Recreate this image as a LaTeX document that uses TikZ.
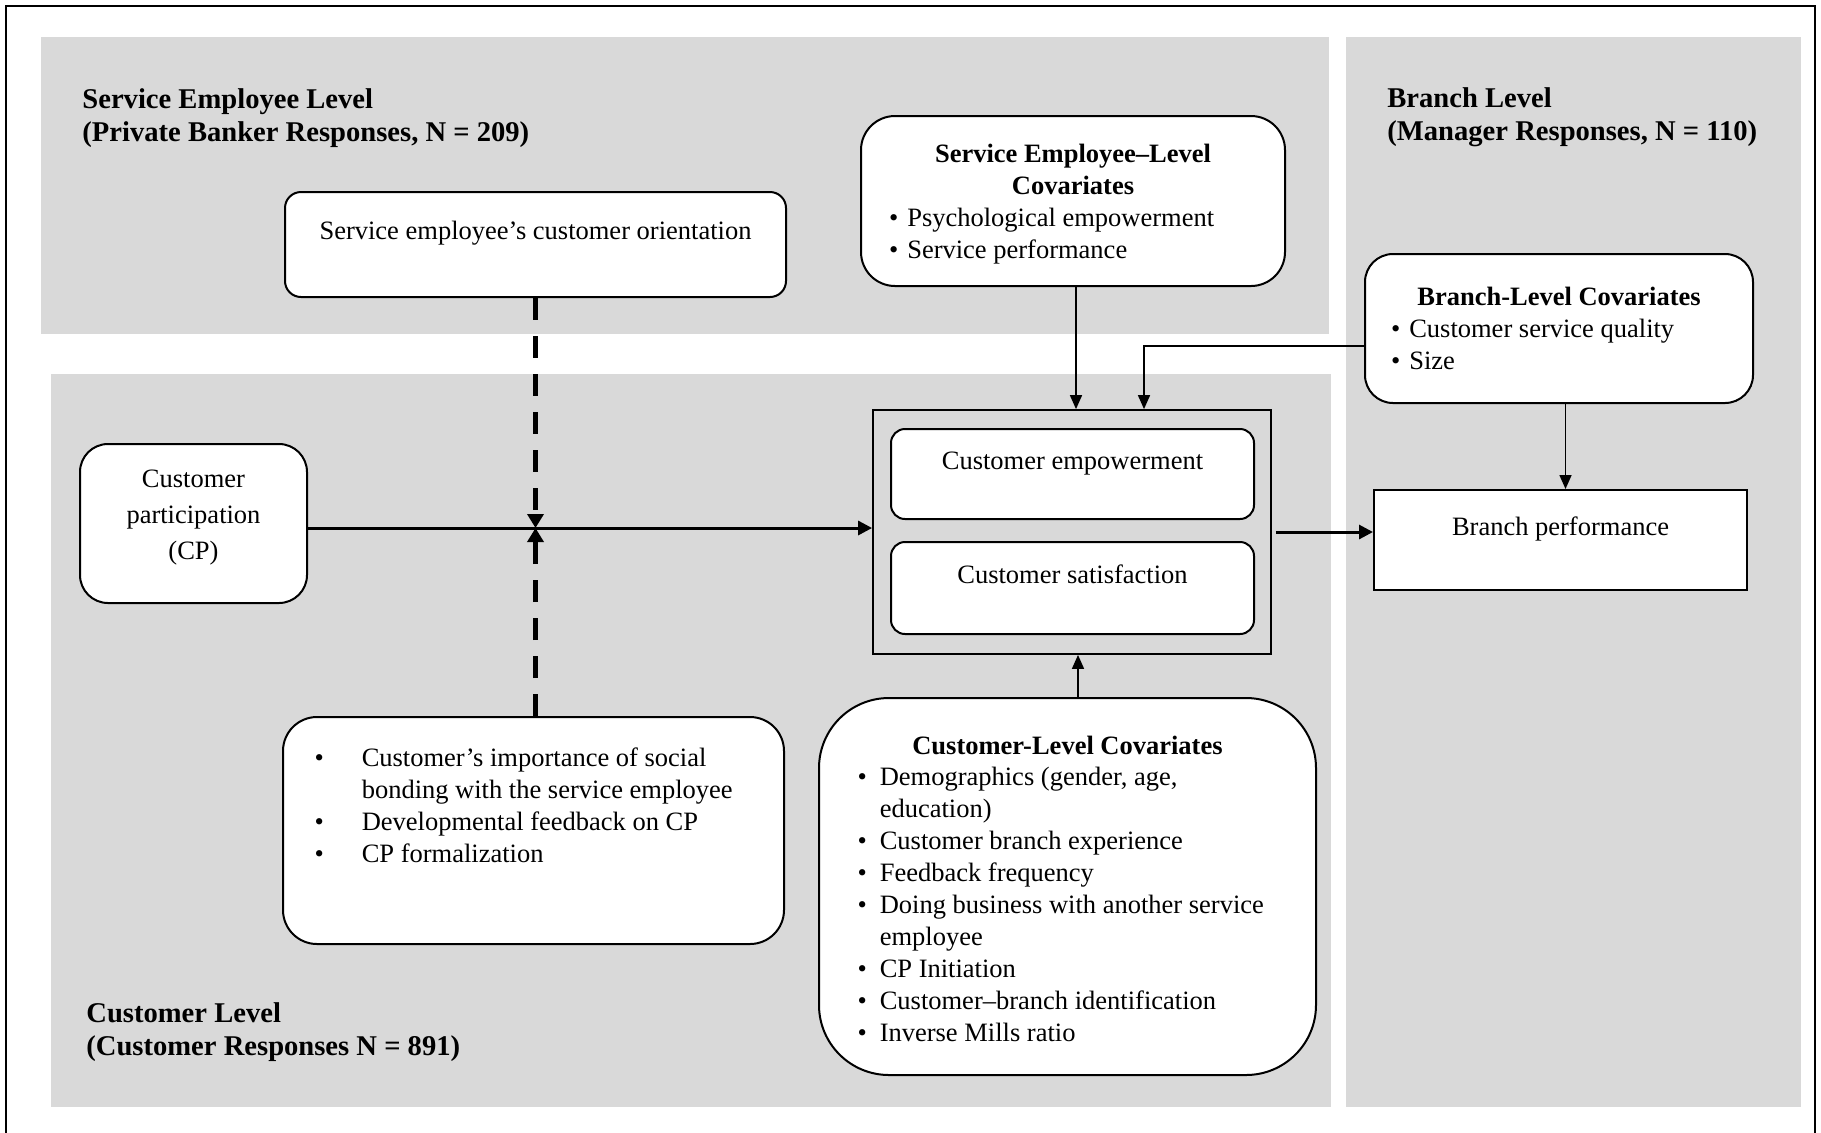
\documentclass[tikz,border=0pt]{standalone}
\usepackage{fontspec}
\setmainfont{Liberation Serif}
\usetikzlibrary{positioning, arrows.meta}
\definecolor{panelgray}{HTML}{D9D9D9}
\newcommand{\pushdown}[1]{\rule[-#1]{0pt}{#1}}

\begin{document}
\begin{tikzpicture}[x=0.5pt, y=-0.5pt, font=\fontsize{13.25}{16}\selectfont]
    % Define styles
    \tikzstyle{panel} = [fill=panelgray, draw=none]
    \tikzstyle{heading} = [anchor=base west, align=left, inner sep=0pt, font=\fontsize{14.3}{16.5}\selectfont\bfseries]
    \tikzstyle{box} = [rectangle, draw, line width=1pt, fill=white, rounded corners=8pt]
    \tikzstyle{plainbox} = [rectangle, draw, line width=1pt, fill=white, sharp corners]
    \tikzstyle{toptext} = [text height=9pt, text depth=14pt]
    \tikzstyle{arrow} = [line width=0.8pt, -{Triangle[length=7pt, width=6pt]}]
    \tikzstyle{bigarrow} = [line width=1.5pt, -{Triangle[length=7pt, width=7pt]}]
    \tikzstyle{modline} = [line width=2.3pt, dash pattern=on 11pt off 8pt, -{Triangle[length=7pt, width=8pt]}]

    \useasboundingbox (0,0) rectangle (1821,1132);

    % Frame and levels
    \draw[line width=1.1pt] (6,6) rectangle (1815,1145);
    \fill[panel] (41,37) rectangle (1329,334);
    \fill[panel] (51,374) rectangle (1331,1107);
    \fill[panel] (1346,37) rectangle (1801,1107);

    \node[heading] (selevel) at (82,141) {Service Employee Level\\(Private Banker Responses, N = 209)};
    \node[heading] (brlevel) at (1387,140) {Branch Level\\(Manager Responses, N = 110)};
    \node[heading] (culevel) at (86,1055) {Customer Level\\(Customer Responses N = 891)};

    % Boxes
    \node[box, toptext, minimum width=250.5pt, minimum height=52.5pt] (orient) at (535.5,244.5) {Service employee’s customer orientation};
    \node[box, rounded corners=17pt, minimum width=212pt, minimum height=85pt] (secov) at (1073,201)
        {\begin{minipage}{184pt}\vspace*{3.5pt}\centering\textbf{Service Employee--Level\\Covariates}\par\raggedright
        \textbullet\hspace{4.5pt}Psychological empowerment\\
        \textbullet\hspace{4.5pt}Service performance\end{minipage}};
    \node[box, rounded corners=14pt, minimum width=194pt, minimum height=74.5pt] (bcov) at (1559,328.5)
        {\begin{minipage}{168pt}\centering\textbf{Branch-Level Covariates}\par\raggedright
        \textbullet\hspace{4.5pt}Customer service quality\\
        \textbullet\hspace{4.5pt}Size\end{minipage}};
    \node[box, rounded corners=14pt, minimum width=113.5pt, minimum height=79.5pt, align=center] (cp) at (193.5,523.5)
        {Customer\\[2pt]participation\\[2pt](CP)\pushdown{9pt}};

    \node[draw, line width=0.9pt, minimum width=199pt, minimum height=122pt] (outcomes) at (1072,532) {};
    \node[box, toptext, rounded corners=7pt, minimum width=181.5pt, minimum height=45pt] (emp) at (1072.5,474) {Customer empowerment};
    \node[box, toptext, rounded corners=7pt, minimum width=181.5pt, minimum height=46pt] (sat) at (1072.5,588) {Customer satisfaction};
    \node[plainbox, toptext, minimum width=186.5pt, minimum height=50pt] (bp) at (1560.5,540) {Branch performance};

    \node[box, rounded corners=17pt, minimum width=250.5pt, minimum height=113.5pt] (modr) at (533.5,830.5)
        {\begin{minipage}{219pt}\raggedright
        \begin{tabular}{@{}l@{\hspace{19pt}}l@{}}
        \textbullet & Customer’s importance of social\\
                    & bonding with the service employee\\
        \textbullet & Developmental feedback on CP\\
        \textbullet & CP formalization\\[22pt]
        \end{tabular}\end{minipage}};
    \node[box, rounded corners=35pt, minimum width=248.5pt, minimum height=188.5pt] (ccov) at (1067.5,886.5)
        {\begin{minipage}{210pt}\vspace*{7pt}\centering\textbf{Customer-Level Covariates}\par\vspace{3.5pt}\raggedright
        \begin{tabular}{@{}l@{\hspace{6.5pt}}l@{}}
        \textbullet & Demographics (gender, age,\\
                    & education)\\
        \textbullet & Customer branch experience\\
        \textbullet & Feedback frequency\\
        \textbullet & Doing business with another service\\
                    & employee\\
        \textbullet & CP Initiation\\
        \textbullet & Customer--branch identification\\
        \textbullet & Inverse Mills ratio
        \end{tabular}\end{minipage}};

    % Arrows
    \coordinate (cross) at ([yshift=-2.25pt]orient.south |- cp.east);
    \draw[bigarrow] ([yshift=-2.25pt]cp.east) -- (cross -| outcomes.west);
    \draw[modline] (orient.south) -- (cross);
    \draw[modline] (modr.north -| cross) -- (cross);
    \draw[arrow] ([xshift=1.5pt]secov.south) -- ([xshift=1.5pt]secov.south |- outcomes.north);
    \draw[arrow] ([yshift=-8.75pt]bcov.west) -| ([xshift=36pt]outcomes.north);
    \draw[arrow] ([xshift=3.25pt]bcov.south) -- ([xshift=3.25pt]bcov.south |- bp.north);
    \draw[bigarrow] ([xshift=2pt]outcomes.east) -- (outcomes.east -| bp.west);
    \draw[arrow] ([xshift=3pt]outcomes.south |- ccov.north) -- ([xshift=3pt]outcomes.south);
\end{tikzpicture}
\end{document}
